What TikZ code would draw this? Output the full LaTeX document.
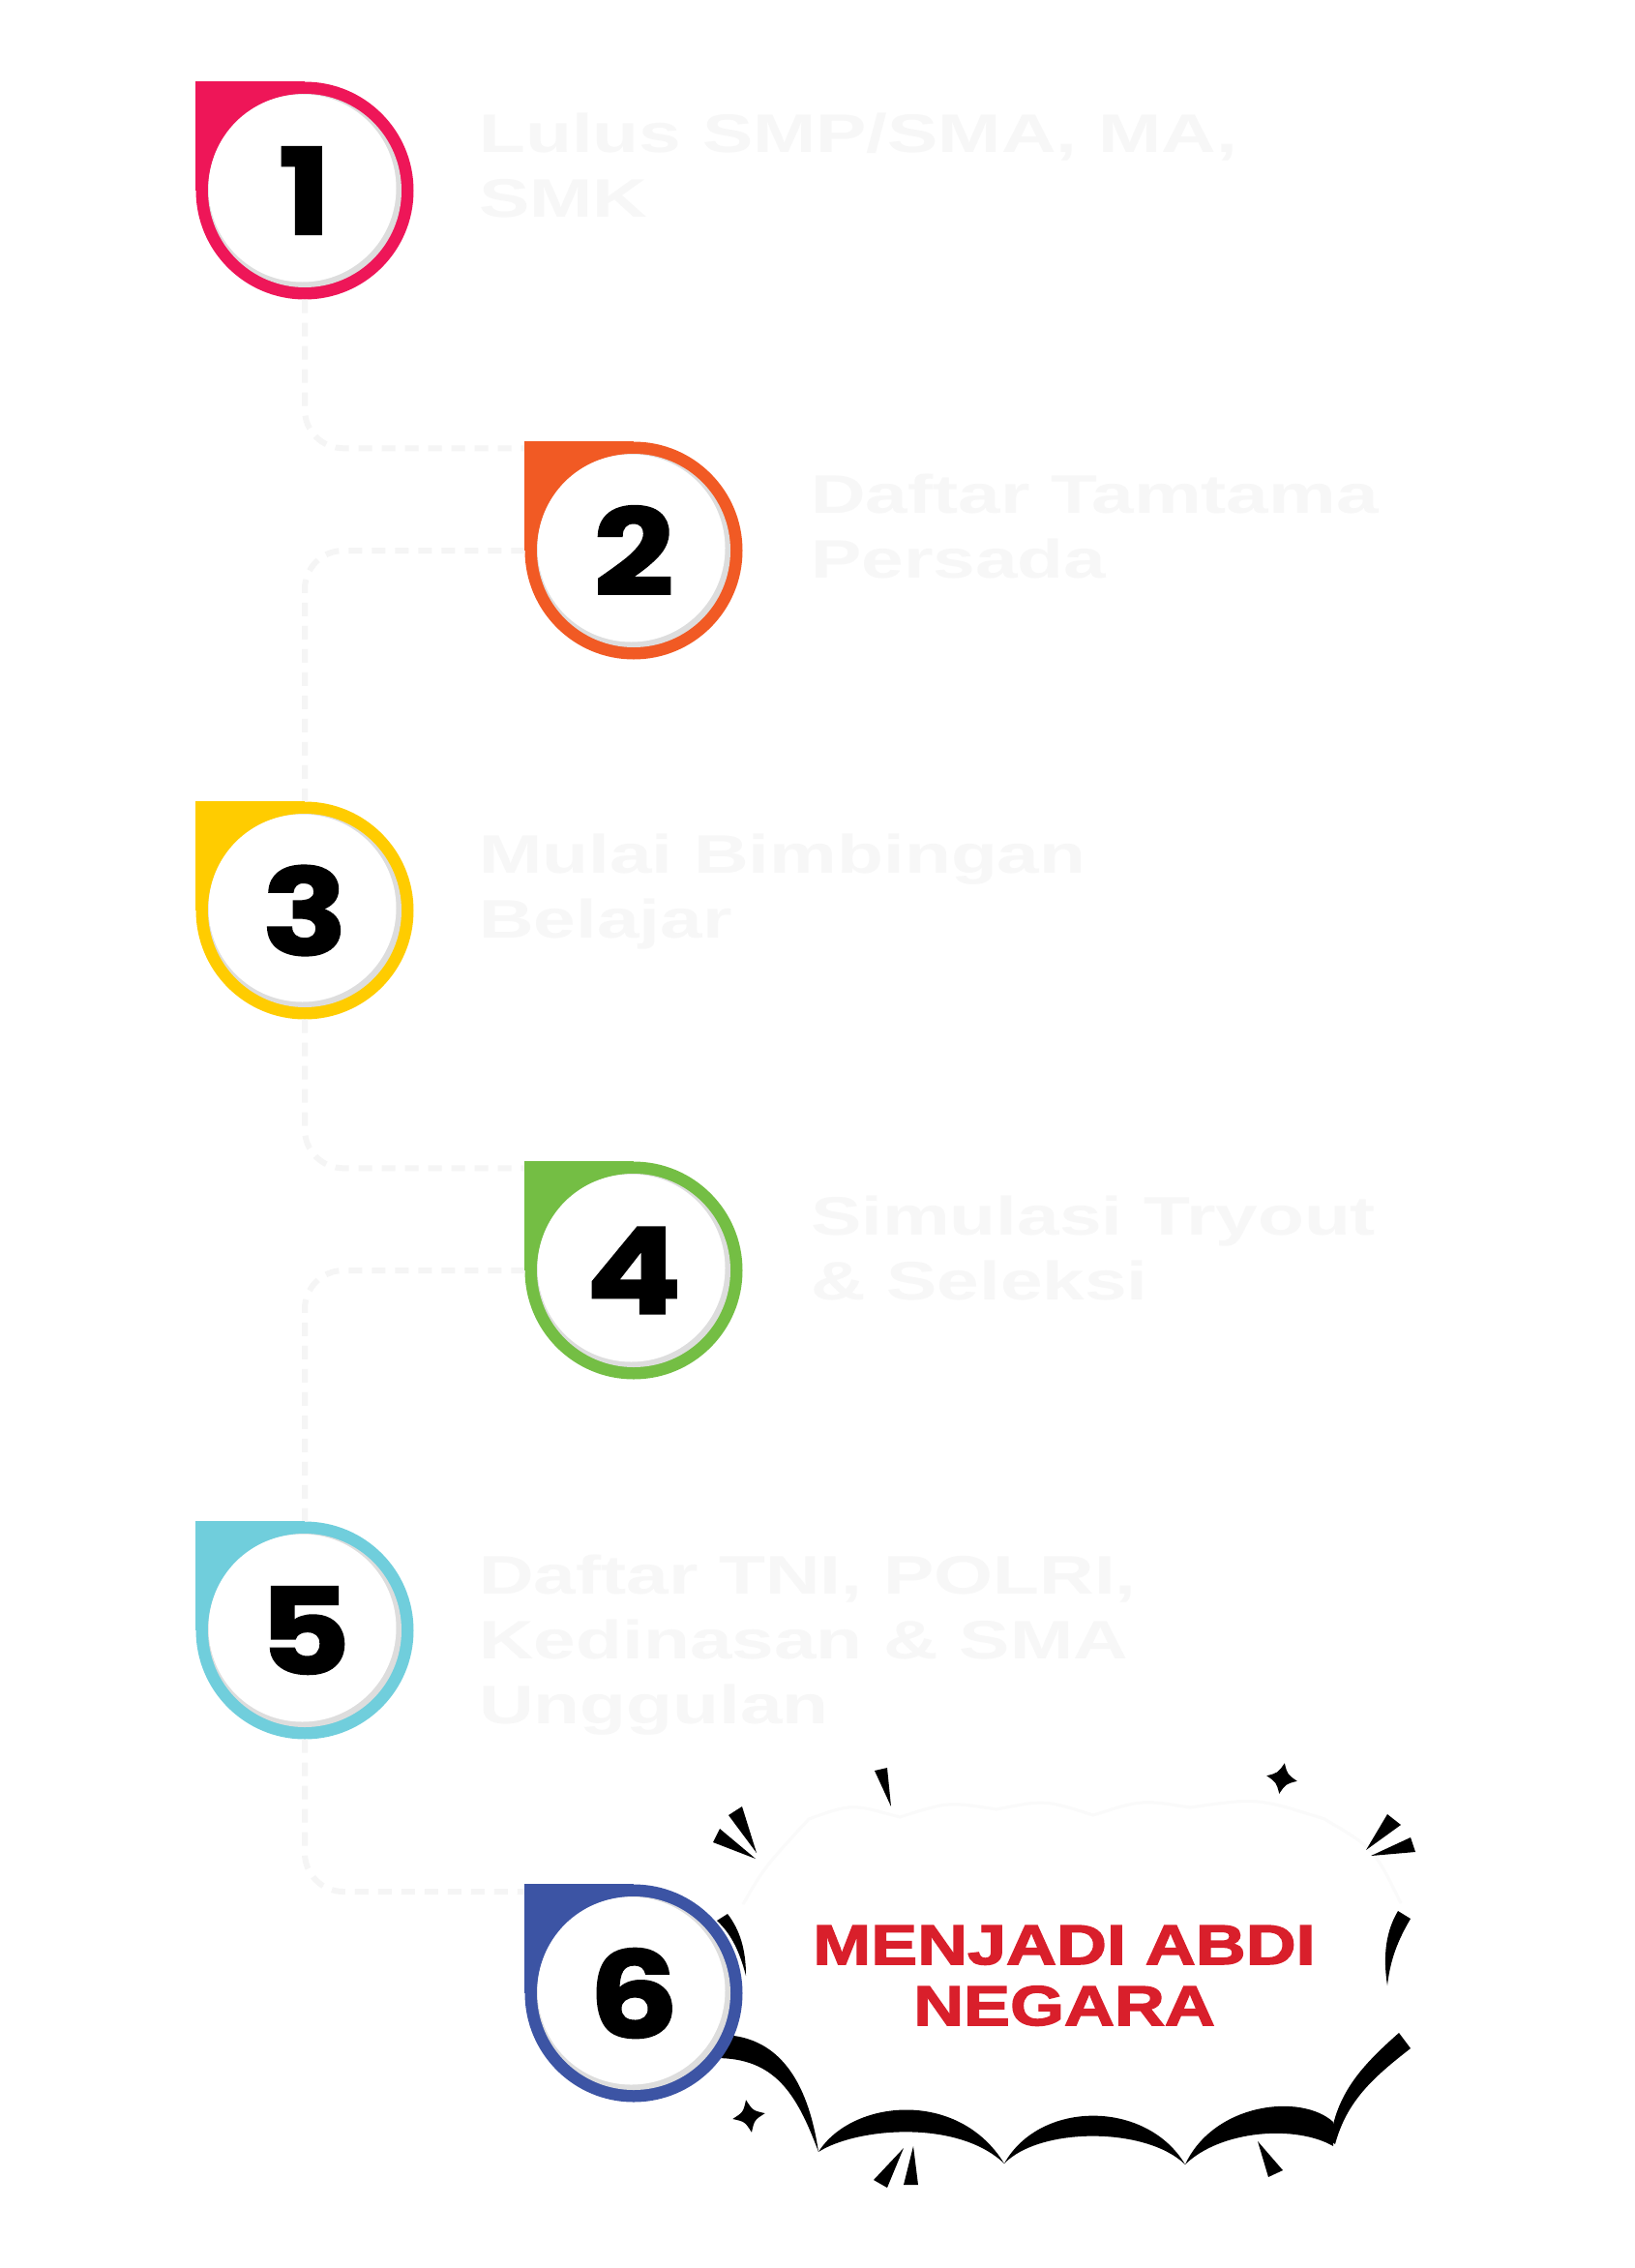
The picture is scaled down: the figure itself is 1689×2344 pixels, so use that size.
\documentclass[tikz,border=0pt]{standalone}
\usepackage{fontspec}
\usepackage{tikz}
\newfontfamily\stepfont{Liberation Sans}[FakeStretch=1.4]
\newfontfamily\goalfont{Liberation Sans}[FakeStretch=1.24,FakeBold=2.5]
\newfontfamily\numfont{Poppins}[FakeStretch=1.18,FakeBold=1.5]
\definecolor{pinkc}{HTML}{EE1658}
\definecolor{orangec}{HTML}{F15A24}
\definecolor{yellowc}{HTML}{FFCC00}
\definecolor{greenc}{HTML}{74BE44}
\definecolor{cyanc}{HTML}{70CEDC}
\definecolor{bluec}{HTML}{3C54A4}
\definecolor{goalred}{HTML}{D91F2B}
\definecolor{shadowc}{HTML}{DDDDDD}
\tikzset{
  badge/.style={circle, fill=#1, minimum size=225pt, inner sep=0pt},
  num/.style={inner sep=0pt, font=\numfont\bfseries\fontsize{124}{124}\selectfont},
  steptext/.style={anchor=base west, inner sep=0pt, align=left, text=white!97!black,
    font=\stepfont\bfseries\fontsize{56}{67}\selectfont},
  link/.style={draw=white!96!black, line width=6pt, dash pattern=on 14pt off 10pt, rounded corners=40pt},
  ink/.style={fill=black}
}

\begin{document}
\begin{tikzpicture}[x=1pt,y=-1pt]
\fill[white] (0,0) rectangle (1689,2344);
\useasboundingbox (0,0) rectangle (1689,2344);
% badges
\node[badge=pinkc] (b1) at (315,197) {};
\node[badge=orangec] (b2) at (655,569) {};
\node[badge=yellowc] (b3) at (315,941) {};
\node[badge=greenc] (b4) at (655,1313) {};
\node[badge=cyanc] (b5) at (315,1685) {};
% links
\draw[link] (b1.south) |- ([yshift=-7pt]b2.north -| b2.west);
\draw[link] (b2.west) -| (b3.north);
\draw[link] (b3.south) |- ([yshift=-7pt]b4.north -| b4.west);
\draw[link] (b4.west) -| (b5.north);
\draw[link] (b5.south) |- (543,1955) coordinate (e6);
% texts (anchored on the last line)
\node[steptext] (t1) at (495,225) {Lulus SMP/SMA, MA,\\SMK};
\node[steptext] (t2) at (838,597) {Daftar Tamtama\\Persada};
\node[steptext] (t3) at (495,969) {Mulai Bimbingan\\Belajar};
\node[steptext] (t4) at (838,1343) {Simulasi Tryout\\\& Seleksi};
\node[steptext] (t5) at (495,1781) {Daftar TNI, POLRI,\\Kedinasan \& SMA\\Unggulan};
% cloud
\draw[white!98!black, line width=3pt] (768,1968) .. controls (790,1930) .. (836,1880)
  .. controls (880,1864) .. (930,1878) .. controls (980,1862) .. (1030,1870)
  .. controls (1080,1860) .. (1130,1876) .. controls (1180,1860) .. (1230,1868)
  .. controls (1300,1858) .. (1369,1880) .. controls (1420,1910) .. (1448,1967);
\fill[ink] (740,2103) .. controls (804,2101) and (835,2150) .. (846,2224)
  .. controls (880,2170) and (990,2158) .. (1038,2236)
  .. controls (1075,2170) and (1185,2170) .. (1225,2237)
  .. controls (1255,2173) and (1345,2163) .. (1378,2193)
  -- (1378,2218)
  .. controls (1340,2196) and (1262,2201) .. (1225,2237)
  .. controls (1185,2198) and (1075,2198) .. (1038,2236)
  .. controls (990,2190) and (885,2199) .. (846,2224)
  .. controls (823,2162) and (800,2127) .. (740,2127) -- cycle;
\fill[ink] (1375,2212) .. controls (1381,2165) and (1406,2136) .. (1446,2101)
  -- (1458,2117) .. controls (1418,2148) and (1392,2172) .. (1380,2216) -- cycle;
\fill[ink] (1445,1975) -- (1458,1983) .. controls (1445,2005) and (1437,2025) .. (1434,2052)
  .. controls (1429,2020) and (1433,1995) .. (1445,1975) -- cycle;
\fill[ink] (741,1985) -- (752,1978) .. controls (765,1995) and (771,2015) .. (771,2042)
  .. controls (764,2015) and (755,1998) .. (741,1985) -- cycle;
% sparks
\fill[ink] (753,1876) -- (767,1867) -- (782,1915) -- cycle;
\fill[ink] (737,1904) -- (744,1890) -- (781,1921) -- cycle;
\fill[ink] (904,1830) -- (917,1827) -- (921,1867) -- cycle;
\fill[ink] (1434,1875) -- (1448,1886) -- (1412,1912) -- cycle;
\fill[ink] (1458,1899) -- (1463,1914) -- (1417,1918) -- cycle;
\fill[ink] (934,2220) -- (917,2261) -- (903,2253) -- cycle;
\fill[ink] (944,2218) -- (949,2258) -- (934,2258) -- cycle;
\fill[ink] (1300,2213) -- (1326,2243) -- (1311,2250) -- cycle;
\fill[ink, shift={(774,2187)}, rotate=10] (0,-17) .. controls (5,-5) .. (17,0)
  .. controls (5,5) .. (0,17) .. controls (-5,5) .. (-17,0) .. controls (-5,-5) .. cycle;
\fill[ink, shift={(1325,1838)}, rotate=-10] (0,-16) .. controls (5,-5) .. (16,0)
  .. controls (5,5) .. (0,16) .. controls (-5,5) .. (-16,0) .. controls (-5,-5) .. cycle;
\node[inner sep=0pt, anchor=base, align=center, text=goalred,
  font=\goalfont\bfseries\fontsize{58}{63}\selectfont] (goal) at (1100,2093) {MENJADI ABDI\\NEGARA};
\node[badge=bluec] (b6) at (655,2060) {};
% corners, faces, digits
\foreach \b/\c/\n in {b1/pinkc/1, b2/orangec/2, b3/yellowc/3, b4/greenc/4, b5/cyanc/5, b6/bluec/6} {
  \fill[\c] (\b.west) rectangle (\b.north);
  \fill[shadowc] (\b.center) circle (100pt);
  \fill[white] ([shift={(-2.5pt,2.5pt)}]\b.center) circle (97pt);
  \node[num] at (\b) {\n};
}
\end{tikzpicture}
\end{document}
